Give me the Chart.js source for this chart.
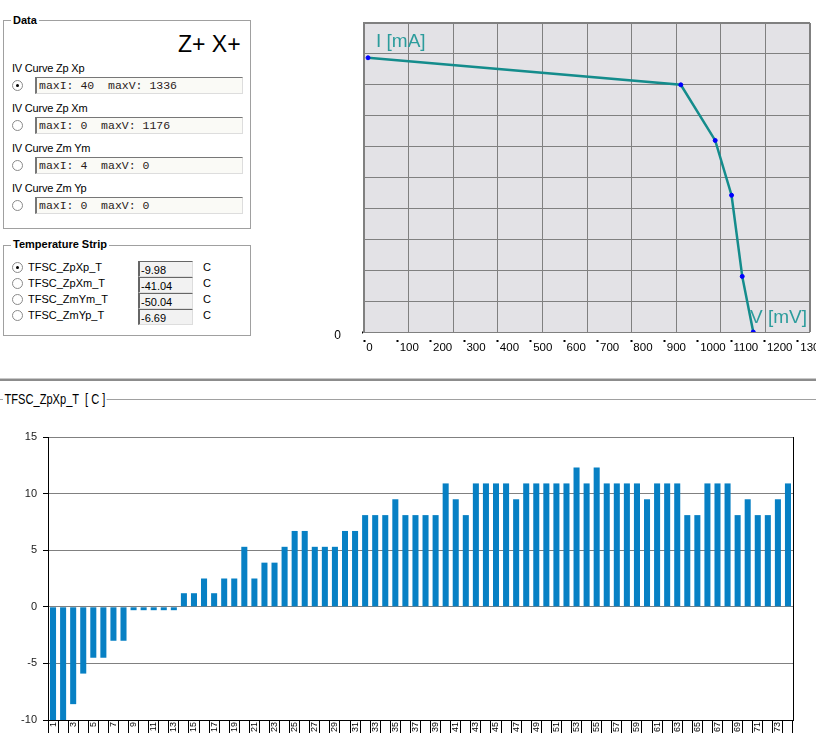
<!DOCTYPE html>
<html>
<head>
<meta charset="utf-8">
<script src="https://cdn.jsdelivr.net/npm/chart.js@4"></script>
<style>
body { margin:0; width:816px; height:753px; overflow:hidden; position:relative; background:#fff;
       font-family: Arial, "Liberation Sans", sans-serif; font-size:11px; color:#000; }
.abs { position:absolute; white-space:pre; }
.box { position:absolute; border:1px solid #a0a0a0; }
.cap { position:absolute; background:#fff; font-weight:bold; padding:0 2px; line-height:12px; }
.lbl { position:absolute; line-height:12px; font-size:11px; letter-spacing:-0.2px; }
.radio { position:absolute; width:11px; height:11px; box-sizing:border-box; border-radius:50%;
         border:1px solid #8a8a8a; background:#fff; }
.radio.on::after { content:""; position:absolute; left:3px; top:3px; width:3px; height:3px; border-radius:50%; background:#000; }
.tb { position:absolute; width:208px; height:17px; box-sizing:border-box; background:#fafaf6;
      border-top:1px solid #777; border-left:2px solid #777; border-right:1px solid #ddd; border-bottom:1px solid #ddd;
      font-family:"Liberation Mono","Courier New",monospace; font-size:11.5px; line-height:15px; padding-left:2px; white-space:pre; color:#2a1a1a; }
.vb { position:absolute; left:138px; width:55px; height:16px; box-sizing:border-box; background:#f2f2f2;
      border-top:1px solid #666; border-left:2px solid #666; border-right:1px solid #ddd; border-bottom:1px solid #ddd;
      line-height:16px; padding-left:1px; font-size:11px; }
canvas { position:absolute; }
</style>
</head>
<body>

<!-- Data group -->
<div class="box" style="left:3px;top:20px;width:246px;height:207px"></div>
<div class="cap" style="left:11px;top:14px">Data</div>
<div class="abs" style="left:178px;top:31px;font-size:23px;line-height:26px">Z+ X+</div>

<div class="lbl" style="left:12px;top:62px">IV Curve Zp Xp</div>
<div class="radio on" style="left:12px;top:80px"></div>
<div class="tb" style="left:35px;top:77px">maxI: 40  maxV: 1336</div>

<div class="lbl" style="left:12px;top:102px">IV Curve Zp Xm</div>
<div class="radio" style="left:12px;top:120px"></div>
<div class="tb" style="left:35px;top:117px">maxI: 0  maxV: 1176</div>

<div class="lbl" style="left:12px;top:142px">IV Curve Zm Ym</div>
<div class="radio" style="left:12px;top:160px"></div>
<div class="tb" style="left:35px;top:157px">maxI: 4  maxV: 0</div>

<div class="lbl" style="left:12px;top:182px">IV Curve Zm Yp</div>
<div class="radio" style="left:12px;top:200px"></div>
<div class="tb" style="left:35px;top:197px">maxI: 0  maxV: 0</div>

<!-- Temperature strip group -->
<div class="box" style="left:3px;top:245px;width:246px;height:89px"></div>
<div class="cap" style="left:11px;top:238px">Temperature Strip</div>

<div class="radio on" style="left:12px;top:262px"></div>
<div class="abs" style="left:28px;top:261px">TFSC_ZpXp_T</div>
<div class="vb" style="top:261px">-9.98</div>
<div class="abs" style="left:203px;top:261px">C</div>

<div class="radio" style="left:12px;top:278px"></div>
<div class="abs" style="left:28px;top:277px">TFSC_ZpXm_T</div>
<div class="vb" style="top:277px">-41.04</div>
<div class="abs" style="left:203px;top:277px">C</div>

<div class="radio" style="left:12px;top:294px"></div>
<div class="abs" style="left:28px;top:293px">TFSC_ZmYm_T</div>
<div class="vb" style="top:293px">-50.04</div>
<div class="abs" style="left:203px;top:293px">C</div>

<div class="radio" style="left:12px;top:310px"></div>
<div class="abs" style="left:28px;top:309px">TFSC_ZmYp_T</div>
<div class="vb" style="top:309px">-6.69</div>
<div class="abs" style="left:203px;top:309px">C</div>

<!-- IV curve -->
<canvas id="ivChart" width="496" height="362" style="left:320px;top:0"></canvas>
<div class="abs" style="left:376px;top:30px;font-size:19px;line-height:22px;color:#2c9c9c">I [mA]</div>
<div class="abs" style="left:750px;top:306px;font-size:19px;line-height:22px;color:#2c9c9c">V [mV]</div>

<!-- splitter -->
<div class="abs" style="left:0;top:378px;width:816px;height:1px;background:#c8c8c8"></div>
<div class="abs" style="left:0;top:379px;width:816px;height:2px;background:#8c8c8c"></div>

<!-- strip chart title -->
<div class="abs" style="left:0;top:399px;width:816px;height:1px;background:#a0a0a0"></div>
<div class="abs" style="left:3px;top:390px;padding:0 2px;background:#fff;font-size:15px;line-height:18px;transform:scaleX(0.74);transform-origin:0 0">TFSC_ZpXp_T  [ C ]</div>

<canvas id="stripChart" width="816" height="333" style="left:0;top:420px"></canvas>

<script>
// IV curve Zp Xp
const ivVolts   = [12, 949, 1052, 1101, 1133, 1166];
const ivCurrent = [35.5, 32, 24.8, 17.7, 7.2, 0];
const ivTicks   = [0, 100, 200, 300, 400, 500, 600, 700, 800, 900, 1000, 1100, 1200, 1300];
const ivGridCols = [0, 1, 2, 3, 4, 5, 6, 7, 8, 9, 10];
const ivMaxV = 1336;
const ivMaxI = 40;

// temperature strip TFSC_ZpXp_T
const stripLabels = Array.from({length: 74}, (_, i) => String(i + 1));
const stripTemps = [
    -10, -10, -8.6, -5.9, -4.5, -4.5, -3.0, -3.0, -0.3, -0.3,
    -0.3, -0.3, -0.3, 1.2, 1.2, 2.5, 1.2, 2.5, 2.5, 5.3,
    2.5, 3.9, 3.9, 5.3, 6.7, 6.7, 5.3, 5.3, 5.3, 6.7,
    6.7, 8.1, 8.1, 8.1, 9.5, 8.1, 8.1, 8.1, 8.1, 10.9,
    9.5, 8.1, 10.9, 10.9, 10.9, 10.9, 9.5, 10.9, 10.9, 10.9,
    10.9, 10.9, 12.3, 10.9, 12.3, 10.9, 10.9, 10.9, 10.9, 9.5,
    10.9, 10.9, 10.9, 8.1, 8.1, 10.9, 10.9, 10.9, 8.1, 9.5,
    8.1, 8.1, 9.5, 10.9
];
const stripTicks = [-10, -5, 0, 5, 10, 15];

// grey plot background of the IV panel
const plotBg = {
    id: 'plotBg',
    beforeDraw(chart) {
        const a = chart.chartArea;
        const ctx = chart.ctx;
        ctx.save();
        ctx.fillStyle = '#e3e2e6';
        ctx.fillRect(a.left, a.top, a.right - a.left, a.bottom - a.top);
        ctx.restore();
    }
};

new Chart(document.getElementById('ivChart'), {
    type: 'line',
    data: {
        datasets: [{
            data: ivVolts.map((v, i) => ({x: v, y: ivCurrent[i]})),
            borderColor: '#148c8c',
            borderWidth: 2.5,
            pointRadius: 2,
            pointBorderWidth: 1,
            pointBackgroundColor: '#0000ff',
            pointBorderColor: '#0000ff',
            tension: 0
        }]
    },
    options: {
        responsive: false,
        animation: false,
        events: [],
        layout: { padding: { right: 6 } },
        plugins: { legend: { display: false }, tooltip: { enabled: false } },
        scales: {
            x: {
                type: 'linear', min: 0, max: ivMaxV,
                afterBuildTicks: s => { s.ticks = ivTicks.map(v => ({value: v})); },
                grid: { drawOnChartArea: false, tickLength: 10, tickColor: '#000', tickWidth: 2, tickBorderDash: [0, 8, 2, 100] },
                border: { display: false },
                ticks: { align: 'start', padding: -1, minRotation: 0, maxRotation: 0, autoSkip: false,
                         color: '#000', font: { size: 11.5 },
                         callback: v => '\u2009' + v },
                afterFit(s) { s.height = 30; s.paddingLeft = 0; s.paddingRight = 0; }
            },
            // the vertical grid is 10 equal columns, independent of the mV labels
            xg: {
                type: 'linear', position: 'top', min: 0, max: 10,
                afterBuildTicks: s => { s.ticks = ivGridCols.map(v => ({value: v})); },
                ticks: { display: false },
                grid: { color: '#808080', lineWidth: c => (c.index === 0 || c.index === 10) ? 2 : 1, drawTicks: false },
                border: { display: false },
                afterFit(s) { s.height = 23; s.paddingLeft = 0; s.paddingRight = 0; }
            },
            y: {
                min: 0, max: ivMaxI,
                ticks: { stepSize: 4, padding: 11, labelOffset: 4, color: '#000', font: { size: 12 },
                         callback: v => v === 0 ? '0' : '' },
                grid: { color: '#808080', lineWidth: c => c.index === 10 ? 2 : 1,
                        tickColor: c => c.tick && c.tick.value === 0 ? '#000' : 'rgba(0,0,0,0)',
                        tickLength: 12, tickWidth: 2, tickBorderDash: [0, 10, 2, 100] },
                border: { color: '#808080', width: 2 },
                afterFit(s) { s.width = 44; s.paddingTop = 0; s.paddingBottom = 0; }
            }
        }
    },
    plugins: [plotBg]
});

new Chart(document.getElementById('stripChart'), {
    type: 'bar',
    data: {
        labels: stripLabels,
        datasets: [{
            data: stripTemps,
            backgroundColor: '#0780c4',
            barPercentage: 0.6,
            categoryPercentage: 1
        }]
    },
    options: {
        responsive: false,
        animation: false,
        events: [],
        layout: { padding: { top: 17, right: 23 } },
        plugins: { legend: { display: false }, tooltip: { enabled: false } },
        scales: {
            x: {
                grid: { drawOnChartArea: false, offset: true, tickColor: '#000', tickLength: 13 },
                border: { color: '#000' },
                ticks: { autoSkip: false, minRotation: 90, maxRotation: 90, padding: -11, color: '#000',
                         font: { size: 9, family: 'Arial' },
                         callback: (v, i) => i % 2 === 0 ? stripLabels[i] : '' },
                afterFit(s) { s.height = 33; s.paddingLeft = 0; s.paddingRight = 0; }
            },
            y: {
                min: -10, max: 15,
                afterBuildTicks: s => { s.ticks = stripTicks.map(v => ({value: v})); },
                grid: { color: '#808080', tickColor: '#000', tickLength: 5 },
                border: { color: '#000' },
                ticks: { padding: 6, color: '#222', font: { size: 11 } },
                afterFit(s) { s.width = 48; s.paddingTop = 0; s.paddingBottom = 0; }
            },
            yr: {
                position: 'right', min: -10, max: 15,
                grid: { display: false },
                ticks: { display: false },
                border: { color: '#000' },
                afterFit(s) { s.width = 0; }
            }
        }
    }
});
</script>
</body>
</html>
